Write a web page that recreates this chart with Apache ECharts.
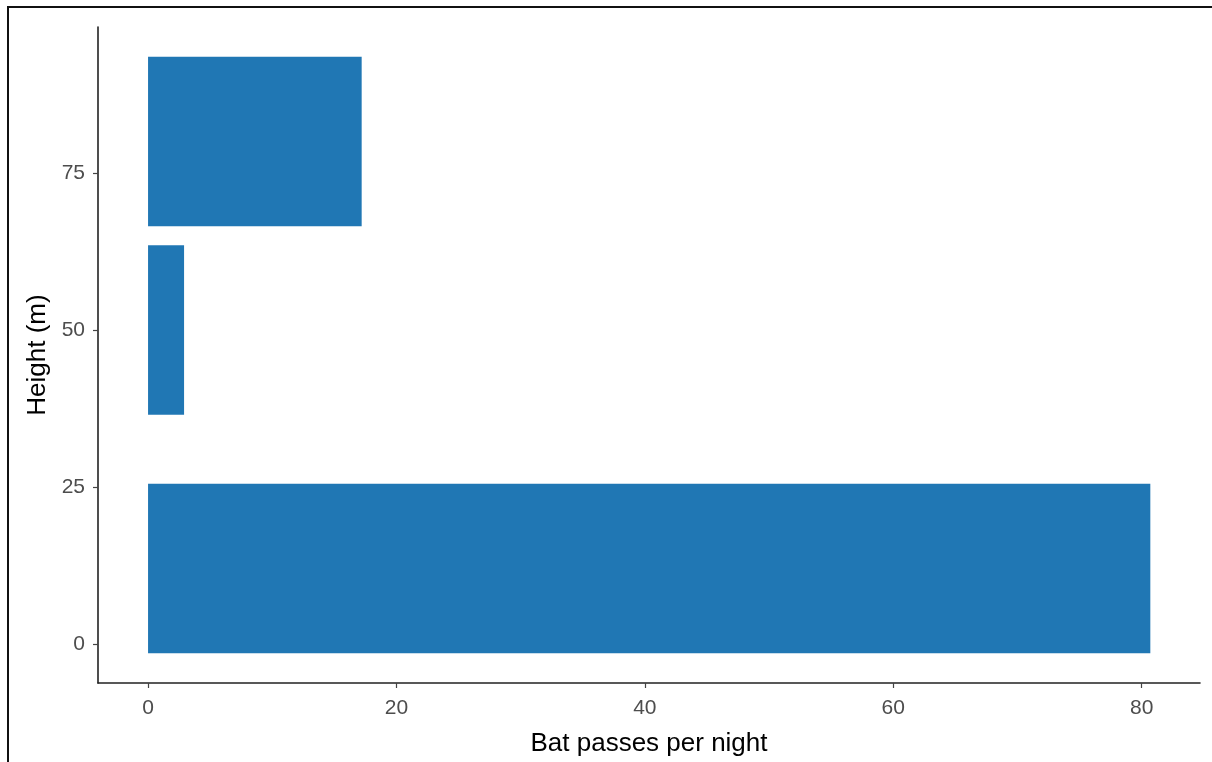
<!DOCTYPE html>
<html>
<head>
<meta charset="utf-8">
<script src="https://cdn.jsdelivr.net/npm/echarts@6/dist/echarts.min.js"></script>
<style>
html,body{margin:0;padding:0;background:#fff;}
#chart{width:1212px;height:762px;}
</style>
</head>
<body>
<div id="chart"></div>
<script>
// Data
const heights = [12, 50, 80];          // Height (m), bar centres
const passes = [80.7, 2.9, 17.2];      // Bat passes per night
const xTicks = [0, 20, 40, 60, 80];
const yTicks = [0, 25, 50, 75];
const xTitle = 'Bat passes per night';
const yTitle = 'Height (m)';

const barSpan = 27; // bar thickness in metres (0.9 x spacing)
const seriesData = heights.map((h, i) => [passes[i], h]);

const chart = echarts.init(document.getElementById('chart'), null, {renderer: 'canvas'});
const labelColor = '#4d4d4d';
const font = 'Liberation Sans, Arial, sans-serif';

chart.setOption({
  backgroundColor: '#fff',
  animation: false,
  grid: {left: 98, right: 12, top: 27, bottom: 79, containLabel: false},
  xAxis: {
    type: 'value', min: -4.03, max: 84.7,
    name: xTitle, nameLocation: 'middle', nameGap: 48,
    nameTextStyle: {color: '#000', fontSize: 26, fontFamily: font},
    axisLine: {show: true, onZero: false, lineStyle: {color: '#222', width: 1.6}},
    axisTick: {show: true, length: 5, customValues: xTicks, lineStyle: {color: '#444', width: 1.2}},
    axisLabel: {customValues: xTicks, color: labelColor, fontSize: 21, fontFamily: font, margin: 15},
    splitLine: {show: false}
  },
  yAxis: {
    type: 'value', min: -6.25, max: 98.25,
    name: yTitle, nameLocation: 'middle', nameGap: 44, nameRotate: 90,
    nameTextStyle: {color: '#000', fontSize: 26, fontFamily: font},
    axisLine: {show: true, onZero: false, lineStyle: {color: '#222', width: 1.6}},
    axisTick: {show: true, length: 5, customValues: yTicks, lineStyle: {color: '#444', width: 1.2}},
    axisLabel: {customValues: yTicks, color: labelColor, fontSize: 21, fontFamily: font, margin: 13},
    splitLine: {show: false}
  },
  series: [{
    type: 'custom',
    data: seriesData,
    encode: {x: 0, y: 1},
    renderItem: function (params, api) {
      const v = api.value(0), h = api.value(1);
      const p0 = api.coord([0, h + barSpan / 2]);
      const p1 = api.coord([v, h - barSpan / 2]);
      return {
        type: 'rect',
        shape: {x: p0[0], y: p0[1], width: p1[0] - p0[0], height: p1[1] - p0[1]},
        style: {fill: '#2077b4'}
      };
    }
  }],
  graphic: [{
    type: 'rect',
    shape: {x: 8, y: 7, width: 1220, height: 780},
    style: {fill: 'none', stroke: '#111', lineWidth: 2},
    silent: true
  }]
});
</script>
</body>
</html>
